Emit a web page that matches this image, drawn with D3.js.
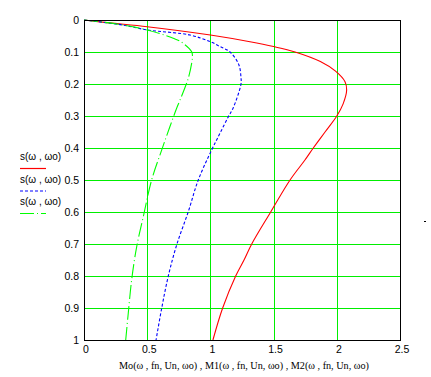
<!DOCTYPE html>
<html>
<head>
<meta charset="utf-8">
<script src="https://cdn.jsdelivr.net/npm/d3@7"></script>
<style>
  html, body { margin: 0; padding: 0; background: #fff; }
  svg { display: block; }
  .tick-label { font-family: "Liberation Sans", Arial, sans-serif; font-size: 10.5px; fill: #000; }
  .legend-label { font-family: "Liberation Sans", Arial, sans-serif; font-size: 10px; fill: #000; }
  .axis-title { font-family: "Liberation Serif", "Times New Roman", serif; font-size: 10.2px; fill: #000; }
</style>
</head>
<body>
<div id="chart"></div>
<script>
// ---- data ----
const xTicks = [0, 0.5, 1, 1.5, 2, 2.5];
const xTickLabels = ['0', '0.5', '1', '1.5', '2', '2.5'];
const yTicks = [0, 0.1, 0.2, 0.3, 0.4, 0.5, 0.6, 0.7, 0.8, 0.9, 1];
const yTickLabels = ['0', '0.1', '0.2', '0.3', '0.4', '0.5', '0.6', '0.7', '0.8', '0.9', '1'];
const legendLabels = ['s(ω , ωo)', 's(ω , ωo)', 's(ω , ωo)'];
const xTitle = 'Mo(ω , fn, Un, ωo) , M1(ω , fn, Un, ωo) , M2(ω , fn, Un, ωo)';

// Mo vs s (red, solid)
const moValues = [0, 0.2, 0.5, 1.0, 1.313, 1.5, 1.67, 1.87, 1.99, 2.065, 2.078, 2.05, 2.0, 1.907, 1.814, 1.748, 1.63, 1.477, 1.327, 1.266, 1.2, 1.097, 1.02];
const moSlip   = [0, 0.009, 0.021, 0.047, 0.068, 0.083, 0.10, 0.13, 0.16, 0.193, 0.219, 0.262, 0.30, 0.35, 0.40, 0.4375, 0.50, 0.60, 0.70, 0.75, 0.80, 0.90, 1.0];

// M1 vs s (blue, dotted)
const m1Values = [0, 0.311, 0.5, 0.839, 1.0, 1.076, 1.155, 1.225, 1.242, 1.242, 1.18, 1.142, 1.076, 1.01, 0.904, 0.825, 0.733, 0.667, 0.615, 0.57];
const m1Slip   = [0, 0.016, 0.031, 0.047, 0.068, 0.083, 0.10, 0.14, 0.18, 0.20, 0.275, 0.302, 0.354, 0.406, 0.50, 0.599, 0.703, 0.80, 0.90, 1.0];

// M2 vs s (green, dash-dot)
const m2Values = [0, 0.258, 0.5, 0.706, 0.767, 0.852, 0.858, 0.852, 0.825, 0.76, 0.733, 0.68, 0.615, 0.535, 0.469, 0.417, 0.377, 0.35, 0.33];
const m2Slip   = [0, 0.0125, 0.031, 0.057, 0.068, 0.099, 0.115, 0.135, 0.182, 0.25, 0.276, 0.333, 0.406, 0.5, 0.615, 0.708, 0.8125, 0.917, 1.0];

const series = [
  { x: moValues, y: moSlip, color: '#ff0000', dash: null },
  { x: m1Values, y: m1Slip, color: '#0000ff', dash: '3,2' },
  { x: m2Values, y: m2Slip, color: '#00ff00', dash: '14,3,1,3' }
];

// ---- layout ----
const width = 431, height = 377;
const margin = { top: 20, right: 31, bottom: 37, left: 84 };
const w = width - margin.left - margin.right;   // 316
const h = height - margin.top - margin.bottom;  // 320

const svg = d3.select('#chart').append('svg')
  .attr('width', width)
  .attr('height', height);

svg.append('rect').attr('width', width).attr('height', height).attr('fill', '#fff');

const g = svg.append('g')
  .attr('transform', `translate(${margin.left},${margin.top})`);

const xScale = d3.scaleLinear().domain([0, 2.5]).range([0, w]);
const yScale = d3.scaleLinear().domain([0, 1]).range([0, h]);

// Grid lines
g.selectAll('.vgrid')
  .data(xTicks.filter(d => d > 0 && d < 2.5))
  .join('line')
  .attr('x1', d => Math.round(xScale(d)) + 0.5).attr('x2', d => Math.round(xScale(d)) + 0.5)
  .attr('y1', 0).attr('y2', h)
  .attr('stroke', '#00ee00').attr('stroke-width', 1);

g.selectAll('.hgrid')
  .data(yTicks.filter(d => d > 0 && d < 1))
  .join('line')
  .attr('x1', 0).attr('x2', w)
  .attr('y1', d => Math.round(yScale(d)) + 0.5).attr('y2', d => Math.round(yScale(d)) + 0.5)
  .attr('stroke', '#00ee00').attr('stroke-width', 1);

// Curves
const line = d3.line()
  .x(d => xScale(d[0]))
  .y(d => yScale(d[1]))
  .curve(d3.curveCatmullRom.alpha(0.5));

series.forEach(s => {
  const pts = s.x.map((v, i) => [v, s.y[i]]);
  g.append('path')
    .datum(pts)
    .attr('fill', 'none')
    .attr('stroke', s.color)
    .attr('stroke-width', 1.1)
    .attr('stroke-dasharray', s.dash)
    .attr('d', line);
});

// Frame
g.append('rect')
  .attr('x', 0.5).attr('y', 0.5)
  .attr('width', w).attr('height', h)
  .attr('fill', 'none')
  .attr('stroke', '#000')
  .attr('stroke-width', 1);

// Tick labels
g.selectAll('.ylab')
  .data(yTicks)
  .join('text')
  .attr('class', 'tick-label')
  .attr('x', -5)
  .attr('y', d => yScale(d))
  .attr('dy', '0.35em')
  .attr('text-anchor', 'end')
  .text((d, i) => yTickLabels[i]);

g.selectAll('.xlab')
  .data(xTicks)
  .join('text')
  .attr('class', 'tick-label')
  .attr('x', d => xScale(d) + 2)
  .attr('y', h + 13)
  .attr('text-anchor', 'middle')
  .text((d, i) => xTickLabels[i]);

// Axis title
svg.append('text')
  .attr('class', 'axis-title')
  .attr('x', margin.left + w / 2 + 2)
  .attr('y', 369)
  .attr('text-anchor', 'middle')
  .text(xTitle);

// Legend
const legend = svg.append('g').attr('transform', 'translate(20,0)');
series.forEach((s, i) => {
  const ty = 160 + i * 22.5;
  legend.append('text')
    .attr('class', 'legend-label')
    .attr('x', 0)
    .attr('y', ty)
    .text(legendLabels[i]);
  legend.append('line')
    .attr('x1', 0).attr('x2', 26)
    .attr('y1', ty + 8.5).attr('y2', ty + 8.5)
    .attr('stroke', s.color)
    .attr('stroke-width', 1.2)
    .attr('stroke-dasharray', s.dash);
});

// small stray mark on the right
svg.append('line')
  .attr('x1', 424).attr('x2', 426)
  .attr('y1', 221.5).attr('y2', 221.5)
  .attr('stroke', '#000').attr('stroke-width', 1);
</script>
</body>
</html>
